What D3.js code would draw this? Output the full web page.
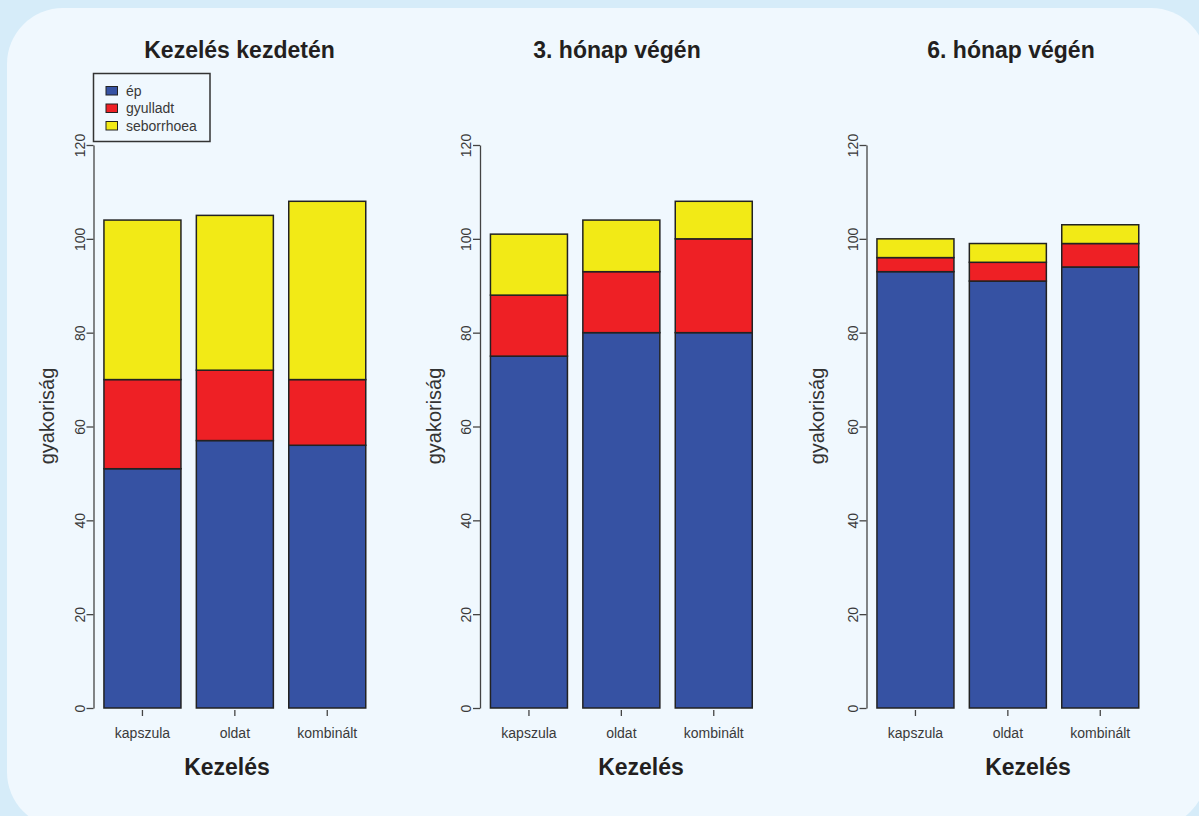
<!DOCTYPE html>
<html>
<head>
<meta charset="utf-8">
<script src="https://cdn.jsdelivr.net/npm/d3@7"></script>
<style>
  html, body { margin: 0; padding: 0; background: #d6ecf9; }
  svg { display: block; font-family: "Liberation Sans", Arial, Helvetica, sans-serif; }
</style>
</head>
<body>
<svg id="chart" width="1199" height="816"></svg>
<script>
// Treatment groups and condition categories
const categories = ["kapszula", "oldat", "kombinált"];
const seriesKeys = ["ép", "gyulladt", "seborrhoea"];
const panelTitles = ["Kezelés kezdetén", "3. hónap végén", "6. hónap végén"];

// Frequencies per panel (rows: panel, columns: treatment group)
const epValues         = [[51, 57, 56], [75, 80, 80], [93, 91, 94]];
const gyulladtValues   = [[19, 15, 14], [13, 13, 20], [3, 4, 5]];
const seborrhoeaValues = [[34, 33, 38], [13, 11, 8], [4, 4, 4]];

const yTicks = [0, 20, 40, 60, 80, 100, 120];
const yLabel = "gyakoriság";
const xLabel = "Kezelés";

const colors = { "ép": "#3652a3", "gyulladt": "#ee2025", "seborrhoea": "#f2ea16" };

// Placement of each of the three panels
const panelLayout = [
  { axisX: 93.5,  titleX: 239.5, xLabX: 227,  yLabX: 54 },
  { axisX: 480,   titleX: 617,   xLabX: 641,  yLabX: 441 },
  { axisX: 866.5, titleX: 1011,  xLabX: 1028, yLabX: 824 }
];
const plotTop = 145, plotBottom = 708, plotWidth = 282.7;

const svg = d3.select("#chart");

// rounded light panel behind the charts
svg.append("rect")
  .attr("x", 7).attr("y", 8)
  .attr("width", 1200).attr("height", 820)
  .attr("rx", 56).attr("ry", 56)
  .attr("fill", "#f0f8fe");

const y = d3.scaleLinear().domain([0, 120]).range([plotBottom, plotTop]);
const stack = d3.stack().keys(seriesKeys);

panelTitles.forEach((title, p) => {
  const L = panelLayout[p];
  const g = svg.append("g");

  const rows = categories.map((c, i) => ({
    category: c,
    "ép": epValues[p][i],
    "gyulladt": gyulladtValues[p][i],
    "seborrhoea": seborrhoeaValues[p][i]
  }));

  const x = d3.scaleBand()
    .domain(categories)
    .range([L.axisX, L.axisX + plotWidth])
    .paddingInner(1 / 6)
    .paddingOuter(0.113);

  // stacked bars
  const layers = stack(rows);
  g.selectAll("g.layer")
    .data(layers)
    .join("g")
    .attr("class", "layer")
    .attr("fill", d => colors[d.key])
    .selectAll("rect")
    .data(d => d)
    .join("rect")
    .attr("x", d => x(d.data.category))
    .attr("width", x.bandwidth())
    .attr("y", d => y(d[1]))
    .attr("height", d => y(d[0]) - y(d[1]))
    .attr("stroke", "#222")
    .attr("stroke-width", 1.5);

  // y axis
  const yAxis = g.append("g")
    .attr("transform", `translate(${L.axisX},0)`)
    .call(d3.axisLeft(y).tickValues(yTicks).tickSize(7).tickSizeOuter(0).tickPadding(9));
  yAxis.select(".domain").attr("stroke", "#444").attr("stroke-width", 1.3);
  yAxis.selectAll(".tick line").attr("stroke", "#444").attr("stroke-width", 1.3);
  yAxis.selectAll(".tick text")
    .attr("x", null).attr("dy", null)
    .attr("transform", "translate(-9,0) rotate(-90)")
    .attr("text-anchor", "middle")
    .attr("y", 0)
    .attr("font-size", 14)
    .attr("font-family", "Liberation Sans, Arial, sans-serif")
    .attr("fill", "#3a3a3a");

  // x axis: ticks only, no base line
  const xAxis = g.append("g")
    .attr("transform", `translate(0,${plotBottom + 2})`)
    .call(d3.axisBottom(x).tickSize(6).tickSizeOuter(0).tickPadding(12));
  xAxis.select(".domain").remove();
  xAxis.selectAll(".tick line").attr("stroke", "#444").attr("stroke-width", 1.3);
  xAxis.selectAll(".tick text")
    .attr("font-size", 14)
    .attr("font-family", "Liberation Sans, Arial, sans-serif")
    .attr("fill", "#3a3a3a");

  // panel title
  g.append("text")
    .attr("x", L.titleX).attr("y", 58)
    .attr("text-anchor", "middle")
    .attr("font-size", 23).attr("font-weight", "bold")
    .attr("fill", "#231f20")
    .text(title);

  // x axis title
  g.append("text")
    .attr("x", L.xLabX).attr("y", 775)
    .attr("text-anchor", "middle")
    .attr("font-size", 23).attr("font-weight", "bold")
    .attr("fill", "#231f20")
    .text(xLabel);

  // y axis title
  g.append("text")
    .attr("transform", `translate(${L.yLabX},416) rotate(-90)`)
    .attr("text-anchor", "middle")
    .attr("font-size", 20)
    .attr("fill", "#333")
    .text(yLabel);
});

// legend in the first panel
const legend = svg.append("g");
legend.append("rect")
  .attr("x", 93.5).attr("y", 73.5)
  .attr("width", 116.5).attr("height", 68)
  .attr("fill", "none")
  .attr("stroke", "#333").attr("stroke-width", 1.5);

const legendY = d3.scalePoint().domain(seriesKeys).range([91, 126]);
const items = legend.selectAll("g.item")
  .data(seriesKeys)
  .join("g")
  .attr("class", "item")
  .attr("transform", d => `translate(0,${legendY(d)})`);
items.append("rect")
  .attr("x", 106).attr("y", -4.5)
  .attr("width", 11.5).attr("height", 8.5)
  .attr("fill", d => colors[d])
  .attr("stroke", "#222").attr("stroke-width", 1);
items.append("text")
  .attr("x", 126).attr("y", 0)
  .attr("dy", "0.35em")
  .attr("font-size", 14)
  .attr("fill", "#3a3a3a")
  .text(d => d);
</script>
</body>
</html>
